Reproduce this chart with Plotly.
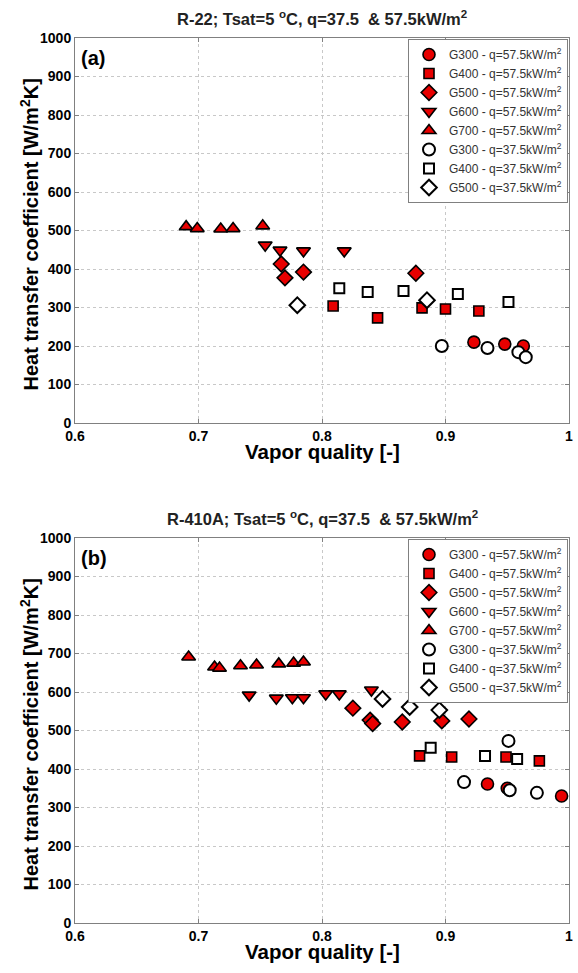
import plotly.graph_objects as go

# ---------------- data: panel (a) R-22 ----------------
a_g300_57_x = [0.923, 0.948, 0.963]
a_g300_57_y = [210, 205, 200]
a_g400_57_x = [0.809, 0.845, 0.881, 0.900, 0.927]
a_g400_57_y = [304, 273, 299, 296, 291]
a_g500_57_x = [0.767, 0.770, 0.785, 0.876]
a_g500_57_y = [413, 377, 392, 389]
a_g600_57_x = [0.754, 0.766, 0.785, 0.818]
a_g600_57_y = [462, 449, 447, 447]
a_g700_57_x = [0.690, 0.699, 0.718, 0.728, 0.752]
a_g700_57_y = [510, 505, 504, 505, 512]
a_g300_37_x = [0.897, 0.934, 0.959, 0.965]
a_g300_37_y = [200, 195, 184, 171]
a_g400_37_x = [0.814, 0.837, 0.866, 0.910, 0.951]
a_g400_37_y = [350, 340, 343, 335, 314]
a_g500_37_x = [0.780, 0.885]
a_g500_37_y = [306, 319]

# ---------------- data: panel (b) R-410A ----------------
b_g300_57_x = [0.934, 0.950, 0.994]
b_g300_57_y = [361, 350, 330]
b_g400_57_x = [0.879, 0.905, 0.949, 0.976]
b_g400_57_y = [434, 431, 431, 421]
b_g500_57_x = [0.825, 0.839, 0.841, 0.865, 0.897, 0.919]
b_g500_57_y = [558, 527, 518, 522, 525, 530]
b_g600_57_x = [0.741, 0.763, 0.776, 0.785, 0.803, 0.814, 0.840]
b_g600_57_y = [592, 584, 585, 585, 595, 595, 605]
b_g700_57_x = [0.692, 0.713, 0.717, 0.734, 0.747, 0.765, 0.777, 0.785]
b_g700_57_y = [691, 665, 662, 668, 670, 673, 675, 678]
b_g300_37_x = [0.915, 0.951, 0.952, 0.974]
b_g300_37_y = [366, 473, 345, 338]
b_g400_37_x = [0.888, 0.932, 0.958]
b_g400_37_y = [455, 434, 426]
b_g500_37_x = [0.849, 0.871, 0.895]
b_g500_37_y = [582, 561, 553]

series_names = [
    "G300 - q=57.5kW/m<sup>2</sup>",
    "G400 - q=57.5kW/m<sup>2</sup>",
    "G500 - q=57.5kW/m<sup>2</sup>",
    "G600 - q=57.5kW/m<sup>2</sup>",
    "G700 - q=57.5kW/m<sup>2</sup>",
    "G300 - q=37.5kW/m<sup>2</sup>",
    "G400 - q=37.5kW/m<sup>2</sup>",
    "G500 - q=37.5kW/m<sup>2</sup>",
]
panel_titles = [
    "R-22; Tsat=5 <sup>o</sup>C, q=37.5  &amp; 57.5kW/m<sup>2</sup>",
    "R-410A; Tsat=5 <sup>o</sup>C, q=37.5  &amp; 57.5kW/m<sup>2</sup>",
]
panel_labels = ["(a)", "(b)"]
x_ticks = [0.6, 0.7, 0.8, 0.9, 1.0]
x_ticktext = ["0.6", "0.7", "0.8", "0.9", "1"]
y_ticks = list(range(0, 1001, 100))

a_data = [
    (a_g300_57_x, a_g300_57_y), (a_g400_57_x, a_g400_57_y), (a_g500_57_x, a_g500_57_y),
    (a_g600_57_x, a_g600_57_y), (a_g700_57_x, a_g700_57_y), (a_g300_37_x, a_g300_37_y),
    (a_g400_37_x, a_g400_37_y), (a_g500_37_x, a_g500_37_y),
]
b_data = [
    (b_g300_57_x, b_g300_57_y), (b_g400_57_x, b_g400_57_y), (b_g500_57_x, b_g500_57_y),
    (b_g600_57_x, b_g600_57_y), (b_g700_57_x, b_g700_57_y), (b_g300_37_x, b_g300_37_y),
    (b_g400_37_x, b_g400_37_y), (b_g500_37_x, b_g500_37_y),
]

# ---------------- styles ----------------
RED = "#e80000"
symbols = ["circle", "square", "diamond", "triangle-down", "triangle-up", "circle", "square", "diamond"]
fills = [RED] * 5 + ["white"] * 3
sizes = [12, 10, 12, 12, 12, 12, 10, 12]

W, H = 578, 973
px_l, px_r = 75, 569
panels_px = [(38, 423), (538, 923)]

def ydom(top, bot):
    return [(H - bot) / H, (H - top) / H]

fig = go.Figure()
for pi, (data, ax) in enumerate([(a_data, ""), (b_data, "2")]):
    for si, (xs, ys) in enumerate(data):
        fig.add_trace(go.Scatter(
            x=xs, y=ys, mode="markers", name=series_names[si],
            xaxis="x" + ax, yaxis="y" + ax,
            legend="legend" + ax,
            marker=dict(symbol=symbols[si], size=sizes[si], color=fills[si],
                        line=dict(color="black", width=1.6 if si < 5 else 2)),
        ))

tickfont = dict(family="Liberation Sans, Arial", size=14, color="black", weight="bold")
axis_common = dict(
    showline=True, linecolor="#808080", linewidth=1, mirror="ticks",
    ticks="inside", ticklen=4, tickcolor="#808080",
    showgrid=True, gridcolor="#c8c8c8", griddash="dot", gridwidth=1,
    zeroline=False, tickfont=tickfont, automargin=False,
)

layout = dict(
    width=W, height=H, margin=dict(l=0, r=0, t=0, b=0),
    paper_bgcolor="white", plot_bgcolor="white",
    font=dict(family="Liberation Sans, Arial", color="black"),
)
for pi, ax in enumerate(["", "2"]):
    top, bot = panels_px[pi]
    layout["xaxis" + ax] = dict(axis_common, domain=[px_l / W, px_r / W], range=[0.6, 1.0],
                                tickvals=x_ticks, ticktext=x_ticktext,
                                anchor="y" + ax)
    layout["yaxis" + ax] = dict(axis_common, domain=ydom(top, bot), range=[0, 1000],
                                tickvals=y_ticks, anchor="x" + ax)
    layout["legend" + ax] = dict(
        x=568 / W, y=(H - (top + 1)) / H, xanchor="right", yanchor="top",
        bgcolor="white", bordercolor="#808080", borderwidth=1,
        font=dict(family="Liberation Sans, Arial", size=12, color="#333333"),
        tracegroupgap=0, itemwidth=30,
    )
fig.update_layout(**layout)

annots = []
for pi in range(2):
    top, bot = panels_px[pi]
    annots.append(dict(text=panel_titles[pi], x=(px_l + px_r) / 2 / W, y=(H - (top - 20)) / H,
                       xref="paper", yref="paper", showarrow=False, xanchor="center", yanchor="middle",
                       font=dict(size=16.5, color="#222222", weight="bold")))
    annots.append(dict(text=panel_labels[pi], x=(px_l + 4) / W, y=(H - (top + 20)) / H,
                       xref="paper", yref="paper", showarrow=False, xanchor="left", yanchor="middle",
                       font=dict(size=20, color="black", weight="bold")))
    annots.append(dict(text="Vapor quality [-]", x=(px_l + px_r) / 2 / W, y=(H - (bot + 28)) / H,
                       xref="paper", yref="paper", showarrow=False, xanchor="center", yanchor="middle",
                       font=dict(size=20.5, color="black", weight="bold")))
    annots.append(dict(text="Heat transfer coefficient [W/m<sup>2</sup>K]", x=29 / W,
                       y=(H - ((top + bot) / 2 + 4)) / H, textangle=-90,
                       xref="paper", yref="paper", showarrow=False, xanchor="center", yanchor="middle",
                       font=dict(size=20, color="black", weight="bold")))
fig.update_layout(annotations=annots)

fig.write_html("out.html")
